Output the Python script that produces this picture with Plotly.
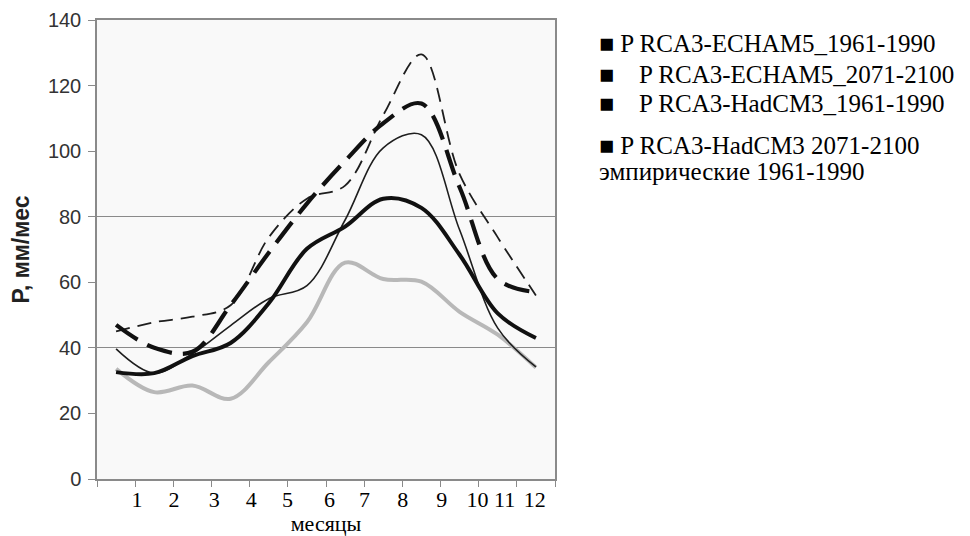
import plotly.graph_objects as go

# ---- data ----
months = list(range(1, 13))
month_labels = [str(m) for m in months]
# where the month numbers are printed under the axis (in month units)
month_label_pos = [1.55, 2.52, 3.57, 4.54, 5.49, 6.59, 7.51, 8.51, 9.53, 10.47, 11.18, 11.97]
y_tick_values = [0, 20, 40, 60, 80, 100, 120, 140]
grid_values = [40, 80]

echam5_1961 = [32.6, 32.3, 37.5, 41.5, 53.6, 70.2, 77.0, 85.5, 82.7, 68.4, 50.5, 43.0]
echam5_2071 = [47.0, 40.0, 38.8, 53.0, 69.0, 84.0, 97.0, 108.5, 114.5, 89.0, 61.0, 57.0]
hadcm3_1961 = [39.7, 32.3, 38.2, 46.8, 55.0, 59.0, 79.0, 101.0, 105.0, 76.0, 46.0, 34.2]
hadcm3_2071 = [45.0, 47.8, 49.5, 53.0, 73.7, 85.5, 89.5, 111.0, 129.5, 93.0, 73.7, 56.0]
empirical = [33.6, 26.5, 28.5, 24.5, 35.6, 47.8, 66.0, 61.0, 60.2, 51.0, 44.0, 34.0]

legend_labels = [
    "■ P RCA3-ECHAM5_1961-1990",
    "■\u00a0\u00a0\u00a0\u00a0P RCA3-ECHAM5_2071-2100",
    "■\u00a0\u00a0\u00a0\u00a0P RCA3-HadCM3_1961-1990",
    "■ P RCA3-HadCM3 2071-2100",
    "эмпирические 1961-1990",
]
x_title = "месяцы"
y_title = "P, мм/мес"

# ---- styling ----
SERIF = "Liberation Serif, Times New Roman, serif"
SANS = "Liberation Sans, Arial, sans-serif"
AXIS_COL = "#8a8a8a"

fig = go.Figure()

series = [
    (empirical, legend_labels[4], dict(color="#b8b8b8", width=4)),
    (hadcm3_1961, legend_labels[2], dict(color="#1e1e1e", width=1.6)),
    (hadcm3_2071, legend_labels[3], dict(color="#1e1e1e", width=1.8, dash="14px,8px")),
    (echam5_1961, legend_labels[0], dict(color="#111111", width=4)),
    (echam5_2071, legend_labels[1], dict(color="#111111", width=4.2, dash="26px,11px")),
]
for ys, name, line in series:
    fig.add_trace(go.Scatter(
        x=months, y=ys, name=name, mode="lines",
        line=dict(shape="spline", smoothing=1.0, **line),
        showlegend=False,
    ))

# helper trace that carries the overlay axis with the two grid lines
fig.add_trace(go.Scatter(x=[None], y=[None], yaxis="y2", showlegend=False,
                         hoverinfo="skip", mode="lines"))

fig.update_layout(
    width=962, height=528,
    margin=dict(l=89, r=415, t=12, b=57, autoexpand=False),
    paper_bgcolor="white",
    plot_bgcolor="#f9f9f9",
    xaxis=dict(
        range=[0.5, 12.5], automargin=False,
        tickmode="array", tickvals=month_label_pos, ticktext=month_labels,
        ticks="", ticklabelstandoff=0,
        tickfont=dict(family=SERIF, size=22, color="black"),
        minor=dict(tickmode="linear", tick0=0.5, dtick=1, ticks="outside",
                   ticklen=6, tickcolor=AXIS_COL, tickwidth=1.2, showgrid=False),
        showline=True, linecolor=AXIS_COL, linewidth=1.5, mirror=True,
        showgrid=False, zeroline=False,
        title=dict(text=x_title, font=dict(family=SERIF, size=22, color="black"), standoff=2),
    ),
    yaxis=dict(
        range=[0, 140], automargin=False,
        tickmode="array", tickvals=y_tick_values,
        ticks="outside", ticklen=7, tickcolor=AXIS_COL, tickwidth=1.2,
        ticklabelstandoff=3,
        tickfont=dict(family=SANS, size=20, color="#333333"),
        showline=True, linecolor=AXIS_COL, linewidth=1.5, mirror=True,
        showgrid=False, zeroline=False,
        title=dict(text="<b>" + y_title + "</b>", font=dict(family=SANS, size=23, color="#222222"), standoff=20),
    ),
    yaxis2=dict(
        overlaying="y", range=[0, 140], automargin=False,
        tickmode="array", tickvals=grid_values,
        showticklabels=False, ticks="",
        showgrid=True, gridcolor=AXIS_COL, gridwidth=1.2,
        showline=False, zeroline=False,
    ),
)

legend_y = [0.948, 0.882, 0.817, 0.7255, 0.669]
for text, yy in zip(legend_labels, legend_y):
    fig.add_annotation(
        text=text, xref="paper", yref="paper", x=1.092, y=yy,
        xanchor="left", yanchor="middle", showarrow=False,
        font=dict(family=SERIF, size=25, color="black"),
    )

fig.write_html("out.html")
